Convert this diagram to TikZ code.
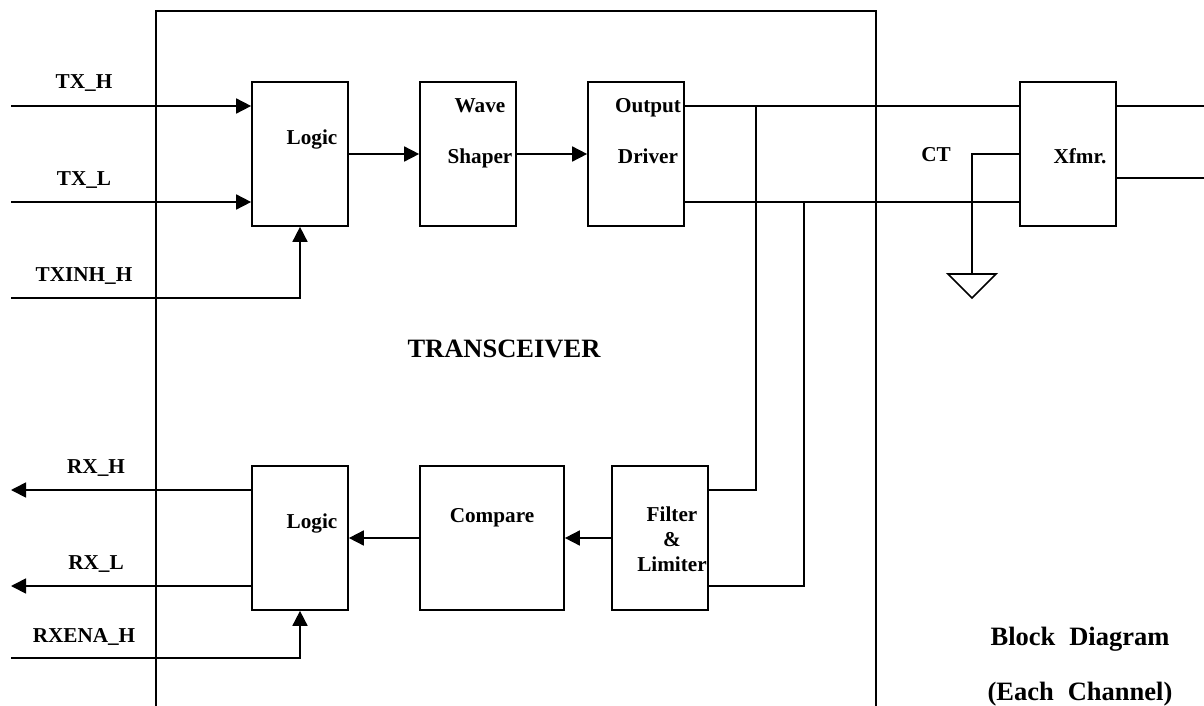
\documentclass[tikz,border=0pt]{standalone}
\usepackage{fontspec}
\setmainfont{Liberation Serif}
\usetikzlibrary{arrows.meta}
\begin{document}
\begin{tikzpicture}[x=1pt,y=-1pt,
  blk/.style={draw,line width=1.7pt,inner sep=0pt,minimum height=144pt,minimum width=96pt},
  wire/.style={line width=1.7pt},
  arr/.style={line width=1.7pt,-{Triangle[length=15pt,width=15pt]}},
  lbl/.style={font=\bfseries\fontsize{21.2}{24}\selectfont,inner sep=0pt,anchor=base}]
\useasboundingbox (0,0) rectangle (1204,706);
\fill[white] (0,0) rectangle (1204,706);
\draw[wire] (156,706) -- (156,11) -- (876,11) -- (876,706);
\node[blk] (lg1) at (300,154) {};
\node[blk] (ws) at (468,154) {};
\node[blk] (od) at (636,154) {};
\node[blk] (xf) at (1068,154) {};
\node[blk] (lg2) at (300,538) {};
\node[blk,minimum width=144pt] (cmp) at (492,538) {};
\node[blk] (fl) at (660,538) {};
% text
\node[lbl] (t1) at (84,89) {TX\_H};
\node[lbl] (t2) at (84,185) {TX\_L};
\node[lbl] (t3) at (84,281) {TXINH\_H};
\node[lbl] at (312,144) {Logic};
\node[lbl] at (480,113) {Wave};
\node[lbl] at (480,163) {Shaper};
\node[lbl] at (648,113) {Output};
\node[lbl] at (648,163) {Driver};
\node[lbl] at (936,161) {CT};
\node[lbl] at (1080,163) {Xfmr.};
\node[lbl,font=\bfseries\fontsize{26.5}{28}\selectfont] at (504,357) {TRANSCEIVER};
\node[lbl] at (96,473) {RX\_H};
\node[lbl] at (96,569) {RX\_L};
\node[lbl] at (84,642) {RXENA\_H};
\node[lbl] at (312,528) {Logic};
\node[lbl] at (492,522) {Compare};
\node[lbl] at (672,521) {Filter};
\node[lbl] at (672,546) {\&};
\node[lbl] at (672,571) {Limiter};
\node[lbl,font=\bfseries\fontsize{26.5}{28}\selectfont] at (1080,645) {Block\hspace{14pt}Diagram};
\node[lbl,font=\bfseries\fontsize{26.5}{28}\selectfont] at (1080,700) {(Each\hspace{14pt}Channel)};
% coordinates
\coordinate (txh) at (11,106);
\coordinate (txl) at (11,202);
\coordinate (inh) at (11,298);
\coordinate (rxh) at (11,490);
\coordinate (rxl) at (11,586);
\coordinate (ena) at (11,658);
\coordinate (oh) at (1204,106);
\coordinate (ol) at (1204,178);
\coordinate (j1) at (756,106);
\coordinate (j2) at (804,202);
% connectors
\draw[arr] (txh) -- (lg1.west |- txh);
\draw[arr] (txl) -- (lg1.west |- txl);
\draw[arr] (inh) -| (lg1.south);
\draw[arr] (lg1.east) -- (ws.west);
\draw[arr] (ws.east) -- (od.west);
\draw[wire] (od.east |- txh) -- (xf.west |- txh);
\draw[wire] (od.east |- txl) -- (xf.west |- txl);
\draw[wire] (xf.east |- oh) -- (oh);
\draw[wire] (xf.east |- ol) -- (ol);
\draw[wire] (j1) -- (756,490) -- (fl.east |- rxh);
\draw[wire] (j2) -- (804,586) -- (fl.east |- rxl);
\draw[arr] (fl.west) -- (cmp.east);
\draw[arr] (cmp.west) -- (lg2.east);
\draw[arr] (lg2.west |- rxh) -- (rxh);
\draw[arr] (lg2.west |- rxl) -- (rxl);
\draw[arr] (ena) -| (lg2.south);
\draw[wire] (xf.west) -- (972,154) -- (972,274);
\draw[wire] (948,274) -- (996,274) -- (972,298) -- cycle;
\end{tikzpicture}
\end{document}
